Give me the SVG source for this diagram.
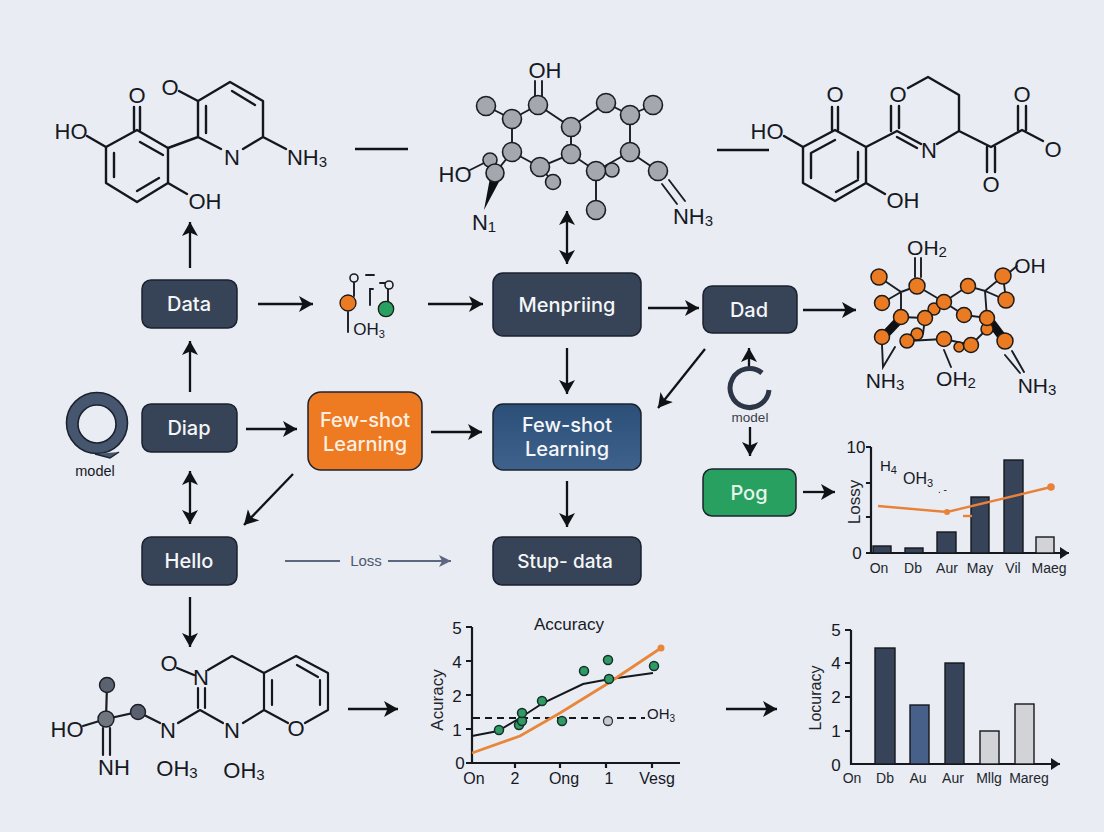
<svg xmlns="http://www.w3.org/2000/svg" width="1104" height="832" viewBox="0 0 1104 832">
<style>
text{font-family:"Liberation Sans",Arial,sans-serif;fill:#16191f}
.chem{font-size:22px;text-anchor:middle;dominant-baseline:central}
.sub{font-size:15px}
.b{fill:none;stroke:#14171c;stroke-width:2.4;stroke-linecap:round;stroke-linejoin:round}
.t{fill:none;stroke:#1a1d23;stroke-width:1.9;stroke-linecap:round}
.box{stroke:#1b2230;stroke-width:1.5}
.lab{font-family:Inter,"Liberation Sans",sans-serif;font-size:20px;font-weight:450;fill:#f4f6f8;text-anchor:middle}
.dark{fill:#374357}
.g{fill:#a4a7ad;stroke:#1a1d23;stroke-width:1.6}
.o{fill:#ea7b23;stroke:#1d1a17;stroke-width:1.5}
.con{fill:none;stroke:#101216;stroke-width:2.3}
.tk{font-size:14px;text-anchor:middle;fill:#23262c}
.vl{font-size:17px;text-anchor:middle;fill:#23262c}
.num{font-size:17px;text-anchor:middle;fill:#16191f}
.ax{fill:none;stroke:#15181e;stroke-width:2.2}
.bar{stroke:#14171c;stroke-width:1.4}
.navy{fill:#374358}
.lite{fill:#d2d3d7}
.dot{fill:#2f9a63;stroke:#15302a;stroke-width:1.5}
</style>
<defs>
<marker id="ah" markerUnits="userSpaceOnUse" markerWidth="16" markerHeight="18" refX="14" refY="8" orient="auto-start-reverse"><path d="M0,0 L14,8 L0,16 L3.5,8 z" fill="#101216"/></marker>
<marker id="ahg" markerUnits="userSpaceOnUse" markerWidth="14" markerHeight="14" refX="12" refY="6" orient="auto"><path d="M0,0 L12,6 L0,12 L3,6 z" fill="#5d6880"/></marker>
<marker id="axh" markerUnits="userSpaceOnUse" markerWidth="12" markerHeight="14" refX="9" refY="6" orient="auto"><path d="M0,0 L9,6 L0,12 z" fill="#15181e"/></marker>
<linearGradient id="blue" x1="0" y1="0" x2="0" y2="1"><stop offset="0" stop-color="#2c4f78"/><stop offset="1" stop-color="#3f628d"/></linearGradient>
</defs>
<rect width="1104" height="832" fill="#e9ecf3"/>

<g id="connectors">
<path class="con" d="M190 268V222" marker-end="url(#ah)"/>
<path class="con" d="M190 392V341" marker-end="url(#ah)"/>
<path class="con" d="M258 304H313" marker-end="url(#ah)"/>
<path class="con" d="M428 304H483" marker-end="url(#ah)"/>
<path class="con" d="M567 211V264" marker-start="url(#ah)" marker-end="url(#ah)"/>
<path class="con" d="M648 308H699" marker-end="url(#ah)"/>
<path class="con" d="M803 310H856" marker-end="url(#ah)"/>
<path class="con" d="M567 348V394" marker-end="url(#ah)"/>
<path class="con" d="M705 349L658 408" marker-end="url(#ah)"/>
<path class="con" d="M246 429H297" marker-end="url(#ah)"/>
<path class="con" d="M431 432H482" marker-end="url(#ah)"/>
<path class="con" d="M567 481V527" marker-end="url(#ah)"/>
<path class="con" d="M190 471V524" marker-start="url(#ah)" marker-end="url(#ah)"/>
<path class="con" d="M293 474L244 525" marker-end="url(#ah)"/>
<path class="con" d="M190 597V647" marker-end="url(#ah)"/>
<path d="M285 561H340" fill="none" stroke="#5d6880" stroke-width="2"/>
<path d="M388 561H451" fill="none" stroke="#5d6880" stroke-width="2" marker-end="url(#ahg)"/>
<path class="con" d="M749 368V348" marker-end="url(#ah)"/>
<path class="con" d="M750 427V456" marker-end="url(#ah)"/>
<path class="con" d="M803 492H835" marker-end="url(#ah)"/>
<path class="con" d="M348 709H398" marker-end="url(#ah)"/>
<path class="con" d="M726 709H777" marker-end="url(#ah)"/>
<path class="con" d="M355 149H408"/>
<path class="con" d="M717 150H769"/>
</g>

<g id="node-data"><rect class="box dark" x="142" y="280" width="95" height="48" rx="9"/><text class="lab" x="189" y="311">Data</text></g>
<g id="node-diap"><rect class="box dark" x="142" y="404" width="95" height="48" rx="9"/><text class="lab" x="189" y="435">Diap</text></g>
<g id="node-hello"><rect class="box dark" x="142" y="537" width="95" height="48" rx="9"/><text class="lab" x="189" y="568">Hello</text></g>
<g id="node-fewshot-orange"><rect class="box" fill="#ee7a22" x="308" y="392" width="114" height="78" rx="13"/><text class="lab" x="365" y="427" style="fill:#fdf0e2">Few-shot</text><text class="lab" x="365" y="451" style="fill:#fdf0e2">Learning</text></g>
<g id="node-menpriing"><rect class="box dark" x="493" y="273" width="148" height="63" rx="10"/><text class="lab" x="567" y="312">Menpriing</text></g>
<g id="node-fewshot-blue"><rect class="box" fill="url(#blue)" x="493" y="404" width="148" height="66" rx="10"/><text class="lab" x="567" y="432">Few-shot</text><text class="lab" x="567" y="456">Learning</text></g>
<g id="node-stup"><rect class="box dark" x="493" y="537" width="148" height="48" rx="9"/><text class="lab" x="565" y="568" style="font-size:19px">Stup- data</text></g>
<g id="node-dad"><rect class="box dark" x="703" y="286" width="94" height="47" rx="9"/><text class="lab" x="749" y="317">Dad</text></g>
<g id="node-pog"><rect class="box" fill="#27a060" x="703" y="469" width="93" height="47" rx="9"/><text class="lab" x="749" y="500" style="fill:#e6f6ec">Pog</text></g>
<g id="node-loss"><text x="366" y="566" font-size="15" text-anchor="middle" style="fill:#4e5870">Loss</text></g>

<g id="node-model-left">
<circle cx="97" cy="423" r="30.5" fill="#47566f" stroke="#1c2330" stroke-width="1.6"/>
<circle cx="97" cy="424" r="19" fill="#e9ecf3" stroke="#1c2330" stroke-width="1.6"/>
<path d="M95 454L110 458L119 452" fill="#47566f" stroke="#1c2330" stroke-width="1.5"/>
<text x="95" y="476" font-size="14.5" text-anchor="middle">model</text>
</g>
<g id="node-model-right">
<path d="M769 390A19.5 19.5 0 1 1 762 373" fill="none" stroke="#2d3646" stroke-width="5"/>
<text x="750" y="422" font-size="13.5" text-anchor="middle" style="fill:#3a3f49">model</text>
</g>

<g id="mol-top-left">
<path class="b" d="M137 130L168 148V183L137 202L106 183V147Z"/>
<path class="b" d="M163 155L140 142M159 178L137 191M114 177V153"/>
<path class="b" d="M134 130V107M140 130V107M106 147L87 136M168 183L187 194M168 148L198 137L221 149M243 149L263 137V101L230 82L198 101V137M206 133V106M232 91L255 105M198 101L179 91M263 137L286 149"/>
<text class="chem" x="137" y="95">O</text><text class="chem" x="170" y="87">O</text>
<text class="chem" x="71" y="131">HO</text><text class="chem" x="205" y="201">OH</text>
<text class="chem" x="232" y="157">N</text>
<text class="chem" x="307" y="157">NH<tspan class="sub" dy="4">3</tspan></text>
</g>

<g id="mol-top-center">
<path class="t" d="M486 106L512 119L538 105L571 127L606 103L630 115L653 105M512 119V152M538 105L571 127M571 127V154M630 115V152L596 171L571 154L540 167L512 152M540 167L553 182M596 171V210M630 152L658 171M512 152L495 173M470 170L490 160"/>
<path class="t" d="M535 81V97M542 81V97M662 184L677 204M669 180L685 201"/>
<path d="M490 178L500 180L484 210Z" fill="#0e1014"/>
<circle class="g" cx="486" cy="106" r="9.5"/><circle class="g" cx="512" cy="119" r="9.5"/><circle class="g" cx="538" cy="105" r="9.5"/><circle class="g" cx="571" cy="127" r="9.5"/><circle class="g" cx="606" cy="103" r="9.5"/><circle class="g" cx="630" cy="115" r="9.5"/><circle class="g" cx="653" cy="105" r="9.5"/><circle class="g" cx="630" cy="152" r="9.5"/><circle class="g" cx="612" cy="170" r="7"/><circle class="g" cx="596" cy="171" r="9.5"/><circle class="g" cx="571" cy="154" r="9.5"/><circle class="g" cx="540" cy="167" r="9.5"/><circle class="g" cx="553" cy="182" r="7.5"/><circle class="g" cx="512" cy="152" r="9.5"/><circle class="g" cx="490" cy="160" r="7"/><circle class="g" cx="495" cy="173" r="9"/><circle class="g" cx="596" cy="210" r="9.5"/><circle class="g" cx="658" cy="171" r="9.5"/>
<text class="chem" x="545" y="70">OH</text><text class="chem" x="455" y="174">HO</text>
<text class="chem" x="484" y="222">N<tspan class="sub" dy="4">1</tspan></text>
<text class="chem" x="693" y="216">NH<tspan class="sub" dy="4">3</tspan></text>
</g>

<g id="mol-top-right">
<path class="b" d="M835 130L866 147V183L835 201L803 183V147Z"/>
<path class="b" d="M835 140L811 153V178M858 180L836 192M858 152V178"/>
<path class="b" d="M832 130V107M838 130V107M803 147L784 136M866 183L885 194M866 147L897 131L921 144M897 137L917 148M937 144L959 131V95L928 77L908 88M891 131V106M899 128V106M959 131L991 147L1022 130L1043 141M987 147V172M995 147V172M1018 130V106M1026 130V106"/>
<text class="chem" x="835" y="94">O</text><text class="chem" x="898" y="94">O</text><text class="chem" x="1022" y="94">O</text><text class="chem" x="991" y="184">O</text><text class="chem" x="1053" y="149">O</text>
<text class="chem" x="767" y="131">HO</text><text class="chem" x="903" y="200">OH</text><text class="chem" x="929" y="150">N</text>
</g>

<g id="mol-small">
<path class="t" d="M354 282V296M348 312V332M388 289V302M366 275H374M380 283H385M370 305V289H373"/>
<circle cx="354" cy="278" r="4" fill="#e9ecf3" stroke="#1a1d23" stroke-width="1.6"/>
<circle cx="389" cy="285" r="4" fill="#e9ecf3" stroke="#1a1d23" stroke-width="1.6"/>
<circle cx="348" cy="303" r="8" fill="#ea7b23" stroke="#1d1a17" stroke-width="1.3"/>
<circle cx="386" cy="309" r="7.7" fill="#27a060" stroke="#1d1a17" stroke-width="1.3"/>
<text x="369" y="335" font-size="17" text-anchor="middle">OH<tspan font-size="11" dy="3">3</tspan></text>
</g>

<g id="mol-orange">
<path class="t" d="M879 277L901 292L882 303M901 292L917 286L944 302L968 286L985 291L1003 276L1006 300L985 291L987 318L964 315L944 302M901 292V317L925 318L934 309M925 318L923 334M907 341L944 339L971 345L987 329M882 345L883 367L895 347M944 350L951 367M1005 276L1017 266M915 258V277M921 258V277M1005 355L1020 373M1012 351L1024 372M917 334L907 341"/>
<path d="M899 314L905 320L886 340L880 334Z" fill="#0e1014"/>
<path d="M984 320L991 315L1009 339L1002 344Z" fill="#0e1014"/>
<circle class="o" cx="879" cy="277" r="8"/><circle class="o" cx="882" cy="303" r="7.5"/><circle class="o" cx="917" cy="286" r="8"/><circle class="o" cx="934" cy="309" r="6"/><circle class="o" cx="944" cy="302" r="7.5"/><circle class="o" cx="968" cy="286" r="7.5"/><circle class="o" cx="1003" cy="276" r="8"/><circle class="o" cx="1006" cy="300" r="8"/><circle class="o" cx="964" cy="315" r="7.5"/><circle class="o" cx="987" cy="329" r="6"/><circle class="o" cx="987" cy="318" r="7.5"/><circle class="o" cx="901" cy="317" r="7.5"/><circle class="o" cx="925" cy="318" r="7.5"/><circle class="o" cx="882" cy="337" r="7.5"/><circle class="o" cx="917" cy="334" r="6"/><circle class="o" cx="907" cy="341" r="7"/><circle class="o" cx="944" cy="339" r="7.5"/><circle class="o" cx="959" cy="347" r="5"/><circle class="o" cx="971" cy="345" r="7.5"/><circle class="o" cx="1005" cy="341" r="8"/>
<text class="chem" x="927" y="247" style="font-size:21px">OH<tspan class="sub" dy="4">2</tspan></text>
<text class="chem" x="1030" y="265" style="font-size:21px">OH</text>
<text class="chem" x="885" y="380" style="font-size:21px">NH<tspan class="sub" dy="4">3</tspan></text>
<text class="chem" x="956" y="378" style="font-size:21px">OH<tspan class="sub" dy="4">2</tspan></text>
<text class="chem" x="1037" y="385" style="font-size:21px">NH<tspan class="sub" dy="4">3</tspan></text>
</g>

<g id="chart-loss">
<path class="ax" d="M871 447V553H1069" marker-end="url(#axh)"/>
<path class="ax" d="M866 447H871M866 483H871M866 517H871M866 553H871"/>
<rect class="bar navy" x="873" y="546" width="18" height="7"/><rect class="bar navy" x="905" y="548" width="18" height="5"/><rect class="bar navy" x="937" y="532" width="19" height="21"/><rect class="bar navy" x="971" y="497" width="18" height="56"/><rect class="bar navy" x="1004" y="460" width="19" height="93"/><rect class="bar lite" x="1036" y="537" width="18" height="16"/>
<path d="M878 506L947 512L1051 487" fill="none" stroke="#e8823a" stroke-width="2.4"/>
<path d="M963 516H972" stroke="#e8823a" stroke-width="2.4"/>
<circle cx="947" cy="512" r="3" fill="#e8823a"/><circle cx="1051" cy="487" r="3.8" fill="#e8823a"/>
<text class="num" x="856" y="453">10</text><text class="num" x="857" y="559">0</text>
<text class="vl" transform="translate(860 502) rotate(-90)">Lossy</text>
<text x="880" y="471" font-size="15">H<tspan font-size="11" dy="3">4</tspan></text>
<text x="903" y="484" font-size="16">OH<tspan font-size="11" dy="3">3</tspan></text>
<text x="938" y="493" font-size="10">. -</text>
<text class="tk" x="879" y="573">On</text><text class="tk" x="913" y="573">Db</text><text class="tk" x="947" y="573">Aur</text><text class="tk" x="980" y="573">May</text><text class="tk" x="1013" y="573">Vil</text><text class="tk" x="1049" y="573">Maeg</text>
</g>

<g id="mol-bottom-left">
<path class="t" d="M107 685L106 719M106 719L138 712L160 723M106 719L83 726M103 728V755M110 728V755" style="stroke-width:2.2"/>
<circle cx="107" cy="685" r="7.5" fill="#5b6270" stroke="#1a1d23" stroke-width="1.4"/><circle cx="106" cy="719" r="8" fill="#70767f" stroke="#1a1d23" stroke-width="1.4"/><circle cx="138" cy="712" r="7.5" fill="#5a6070" stroke="#1a1d23" stroke-width="1.4"/>
<path class="b" d="M178 723L200 710L223 723M198 688V708M205 688V708M177 668L194 675M208 670L232 656L264 673V710L243 723M264 710L288 723M305 723L328 710V673L296 656L264 673M272 680V705M320 705V680M297 665L318 677" style="stroke-width:2.2"/>
<text class="chem" x="169" y="663">O</text><text class="chem" x="201" y="677">N</text><text class="chem" x="168" y="730">N</text><text class="chem" x="232" y="730">N</text><text class="chem" x="296" y="728">O</text>
<text class="chem" x="67" y="729">HO</text><text class="chem" x="114" y="767">NH</text>
<text class="chem" x="177" y="768">OH<tspan class="sub" dy="4">3</tspan></text>
<text class="chem" x="244" y="770">OH<tspan class="sub" dy="4">3</tspan></text>
</g>

<g id="chart-accuracy">
<path class="ax" d="M472 627V763H680M466 627H472M466 661H472M466 695H472M466 729H472M466 763H472M515 763V768M560 763V768M606 763V768M652 763V768"/>
<path d="M473 718H645" fill="none" stroke="#15181e" stroke-width="1.8" stroke-dasharray="7 5"/>
<path d="M472 736L498 731L520 718L543 703L583 684L610 679L653 673" fill="none" stroke="#14171c" stroke-width="2"/>
<path d="M472 753L520 736L560 713L607 684L661 648" fill="none" stroke="#e8873a" stroke-width="2.8"/>
<circle cx="661" cy="648" r="3.5" fill="#e8873a"/>
<circle class="dot" cx="499" cy="730" r="4.5"/><circle class="dot" cx="519" cy="725" r="4.5"/><circle class="dot" cx="522" cy="721" r="4.5"/><circle class="dot" cx="522" cy="713" r="4.5"/><circle class="dot" cx="542" cy="701" r="4.5"/><circle class="dot" cx="562" cy="721" r="4.5"/><circle class="dot" cx="584" cy="671" r="4.5"/><circle class="dot" cx="608" cy="660" r="4.5"/><circle class="dot" cx="609" cy="679" r="4.5"/><circle class="dot" cx="654" cy="666" r="4.5"/>
<circle cx="608" cy="721" r="4.5" fill="#c9cacd" stroke="#333" stroke-width="1.3"/>
<text x="569" y="630" font-size="17" text-anchor="middle">Accuracy</text>
<text class="num" x="457" y="634">5</text><text class="num" x="457" y="668">4</text><text class="num" x="457" y="702">2</text><text class="num" x="457" y="736">1</text><text class="num" x="460" y="769">0</text>
<text class="vl" transform="translate(443 700) rotate(-90)">Acuracy</text>
<text x="647" y="719" font-size="15">OH<tspan font-size="10" dy="3">3</tspan></text>
<text class="num" x="474" y="784" style="font-size:16px">On</text><text class="num" x="515" y="784" style="font-size:16px">2</text><text class="num" x="564" y="784" style="font-size:16px">Ong</text><text class="num" x="609" y="784" style="font-size:16px">1</text><text class="num" x="657" y="784" style="font-size:16px">Vesg</text>
</g>

<g id="chart-locuracy">
<path class="ax" d="M851 630V764H1060" marker-end="url(#axh)"/>
<path class="ax" d="M845 630H851M845 663H851M845 697H851M845 731H851"/>
<rect class="bar navy" x="875" y="648" width="20" height="116"/><rect class="bar" fill="#47608a" x="910" y="705" width="19" height="59"/><rect class="bar navy" x="945" y="663" width="19" height="101"/><rect class="bar lite" x="980" y="731" width="19" height="33"/><rect class="bar lite" x="1015" y="704" width="19" height="60"/>
<text class="num" x="836" y="636">5</text><text class="num" x="836" y="669">4</text><text class="num" x="836" y="703">2</text><text class="num" x="836" y="737">1</text><text class="num" x="836" y="771">0</text>
<text class="vl" transform="translate(821 698) rotate(-90)" style="font-size:16px">Locuracy</text>
<text class="tk" x="852" y="783">On</text><text class="tk" x="885" y="783">Db</text><text class="tk" x="918" y="783">Au</text><text class="tk" x="953" y="783">Aur</text><text class="tk" x="989" y="783">Mllg</text><text class="tk" x="1029" y="783">Mareg</text>
</g>
</svg>
